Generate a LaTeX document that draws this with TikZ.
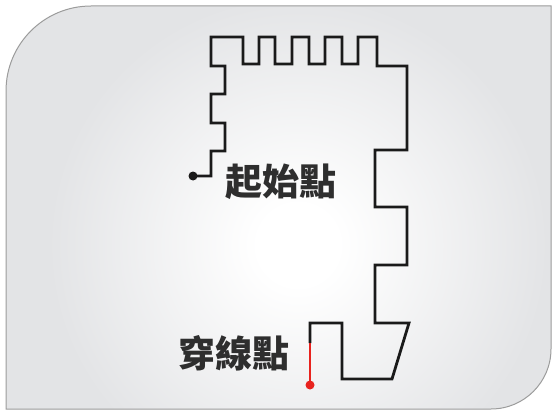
\documentclass[tikz,border=0pt]{standalone}
\usepackage{fontspec}
\newfontfamily\cjk{Noto Sans CJK TC}
\definecolor{bggray}{HTML}{E3E4E6}
\definecolor{bgborder}{HTML}{9C9C9C}
\definecolor{trace}{HTML}{1A1A1A}
\definecolor{txt}{HTML}{2E2E2E}
\definecolor{threadred}{HTML}{E8231E}
\pgfdeclareradialshading{glow}{\pgfpoint{0bp}{0bp}}{color(0bp)=(white); color(2bp)=(white); color(12.5bp)=(bggray); color(50bp)=(bggray)}
\tikzset{
  lbl/.style={font=\cjk\bfseries\fontsize{37}{40}\selectfont, text=txt, inner sep=0pt},
  tracepath/.style={draw=trace, line width=2.8pt, line join=miter},
  redpath/.style={draw=threadred, line width=2.8pt},
  enddot/.style={circle, inner sep=0pt, minimum size=9pt},
}
\begin{document}
\begin{tikzpicture}[x=1pt,y=-1pt]
\useasboundingbox (0,0) rectangle (552,412);
% background panel
\def\panel{(6,409) -- (6,91) arc[start angle=180,end angle=270,radius=85] -- (551,6) -- (551,349) arc[start angle=0,end angle=90,radius=60] -- cycle}
\fill[bggray] \panel;
\begin{scope}
  \clip \panel;
  \shade[shading=glow] (298,245) circle[radius=500];
\end{scope}
\draw[bgborder, line width=1pt] \panel;
% labels
\node[lbl] (startlbl) at (281,182) {起始點};
\node[lbl] (threadlbl) at (234,353) {穿線點};
% start and end points
\node[enddot, fill=trace] (S) at (193,176) {};
\node[enddot, fill=threadred] (E) at (310,385) {};
\coordinate (J) at (310,343);
% main trace
\draw[tracepath] (S.center) -- (211,176) -- (211,151) -- (225,151) -- (225,123) -- (211,123)
  -- (211,94) -- (225,94) -- (225,66) -- (211,66) -- (211,37)
  -- (243,37) -- (243,64) -- (259,64) -- (259,37) -- (275,37) -- (275,64)
  -- (292,64) -- (292,37) -- (309,37) -- (309,64) -- (325,64) -- (325,37)
  -- (342,37) -- (342,64) -- (358,64) -- (358,37) -- (377,37) -- (377,66)
  -- (407,66) -- (407,150) -- (375,150) -- (375,207) -- (407,207) -- (407,265)
  -- (375,265) -- (375,323) -- (409,323) -- (392,379) -- (342,379) -- (342,323)
  -- (310,323) -- (J);
% red thread
\draw[redpath] (J) -- (E.center);
\end{tikzpicture}
\end{document}
